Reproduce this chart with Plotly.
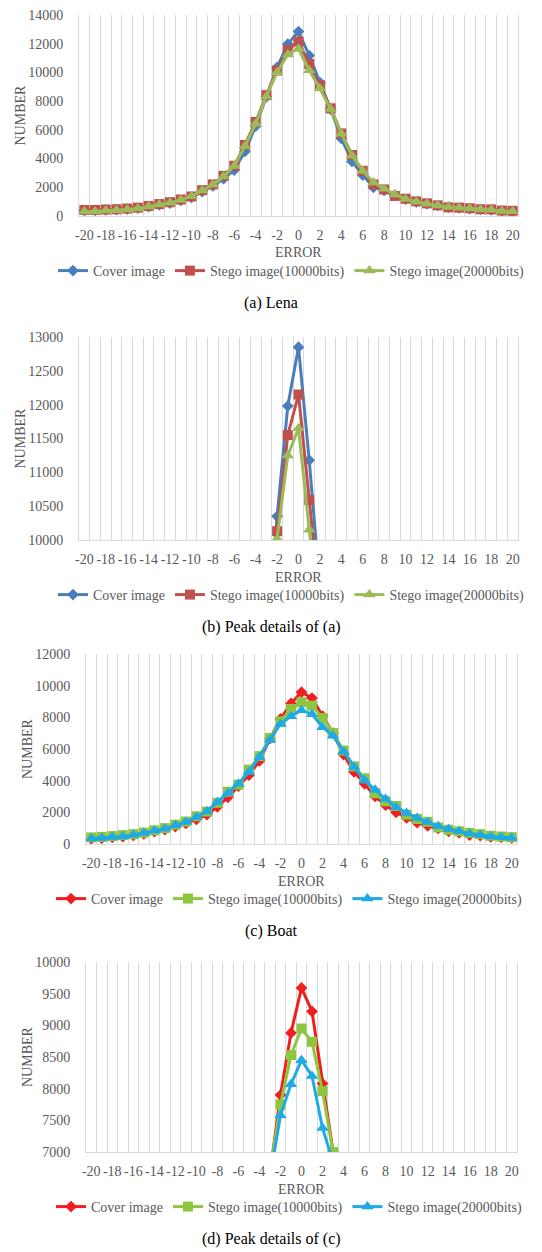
import plotly.graph_objects as go

errors = list(range(-20, 21))
tick_vals = list(range(-20, 21, 2))
tick_text = [str(v) for v in tick_vals]

lena_cover = [380, 390, 420, 440, 480, 540, 650, 780, 900, 1080, 1300, 1700, 2100, 2600, 3200, 4500, 6250, 8300,
              10350, 11980, 12850, 11180, 9300, 7450, 5400, 3800, 2850, 2000, 1780, 1450, 1180, 980, 850, 730, 620,
              560, 520, 460, 430, 350, 330]
lena_10000 = [420, 420, 450, 470, 520, 580, 700, 830, 960, 1150, 1360, 1800, 2200, 2800, 3500, 4950, 6550, 8420,
              10130, 11550, 12150, 10590, 9100, 7500, 5750, 4250, 3150, 2200, 1850, 1400, 1200, 1020, 880, 740, 600,
              580, 540, 470, 460, 380, 360]
lena_20000 = [320, 310, 380, 400, 460, 530, 660, 800, 920, 1120, 1380, 1770, 2180, 2750, 3490, 4860, 6420, 8330,
              10020, 11250, 11650, 10150, 8880, 7450, 5730, 4200, 3140, 2340, 1900, 1490, 1190, 990, 850, 730, 620,
              570, 530, 460, 440, 340, 330]

boat_cover = [330, 360, 420, 460, 540, 640, 780, 900, 1100, 1300, 1550, 1850, 2350, 2950, 3650, 4350, 5250, 6650,
              7900, 8880, 9590, 9220, 8080, 7000, 5650, 4550, 3800, 3000, 2450, 2000, 1650, 1350, 1150, 980, 800,
              700, 560, 520, 450, 420, 380]
boat_10000 = [420, 450, 500, 560, 620, 720, 860, 1000, 1220, 1420, 1750, 2050, 2600, 3300, 3750, 4700, 5550, 6700,
              7750, 8530, 8950, 8740, 7960, 7000, 5900, 4900, 4150, 3200, 2700, 2400, 1850, 1580, 1400, 1050, 900,
              800, 700, 620, 520, 470, 430]
boat_20000 = [340, 380, 440, 480, 570, 690, 840, 970, 1180, 1390, 1700, 2060, 2650, 3220, 3810, 4550, 5490, 6590,
              7580, 8070, 8450, 8200, 7380, 6840, 5850, 4860, 4020, 3430, 2840, 2320, 1960, 1640, 1390, 1120, 950,
              800, 650, 570, 480, 420, 380]

series_names = ["Cover image", "Stego image(10000bits)", "Stego image(20000bits)"]
captions = ["(a) Lena", "(b) Peak details of (a)", "(c) Boat", "(d) Peak details of (c)"]

colors_lena = ["#4A7EBB", "#C0504D", "#9BBB59"]
colors_boat = ["#F01E1E", "#8DC63F", "#1EAAE6"]
symbols = ["diamond", "square", "triangle-up"]
msizes = [9, 10, 11]

W, H = 542, 1252
def fx(px):
    return px / W
def fy(py):
    return 1 - py / H

# panel geometry (pixels): left, right, top, bottom
panels = [
    dict(l=79, r=518, t=15, b=216, yr=[0, 14000], dt=2000, data=[lena_cover, lena_10000, lena_20000], col=colors_lena, legx=291),
    dict(l=79, r=518, t=337, b=540, yr=[10000, 13000], dt=500, data=[lena_cover, lena_10000, lena_20000], col=colors_lena, legx=291),
    dict(l=86, r=517, t=654, b=844, yr=[0, 12000], dt=2000, data=[boat_cover, boat_10000, boat_20000], col=colors_boat, legx=289),
    dict(l=86, r=517, t=962, b=1152, yr=[7000, 10000], dt=500, data=[boat_cover, boat_10000, boat_20000], col=colors_boat, legx=289),
]

SERIF = "Liberation Serif, Times New Roman, serif"
GRAY = "#595959"
GRID = "#D9D9D9"
TICKFONT = dict(family=SERIF, size=14, color=GRAY)

fig = go.Figure()
annotations = []
layout = {}
for i, p in enumerate(panels):
    n = i + 1
    xa = "x" if n == 1 else f"x{n}"
    ya = "y" if n == 1 else f"y{n}"
    lg = "legend" if n == 1 else f"legend{n}"
    for k in range(3):
        fig.add_trace(go.Scatter(
            x=errors, y=p["data"][k], name=series_names[k], mode="lines+markers",
            line=dict(color=p["col"][k], width=3),
            marker=dict(symbol=symbols[k], size=msizes[k], color=p["col"][k]),
            xaxis=xa, yaxis=ya, legend=lg, cliponaxis=True,
        ))
    layout[f"xaxis{n}" if n > 1 else "xaxis"] = dict(
        domain=[fx(p["l"]), fx(p["r"])], anchor=ya, range=[-20.5, 20.5], automargin=False,
        tickmode="array", tickvals=tick_vals, ticktext=tick_text,
        showgrid=False, zeroline=False, showline=True, linecolor=GRID, linewidth=1,
        ticks="", tickfont=dict(family=SERIF, size=14, color=GRAY), ticklabelstandoff=6,
        minor=dict(tick0=0.5, dtick=1, showgrid=True, gridcolor=GRID, gridwidth=1, ticks=""),
        fixedrange=True,
    )
    layout[f"yaxis{n}" if n > 1 else "yaxis"] = dict(
        domain=[fy(p["b"]), fy(p["t"])], anchor=xa, range=p["yr"], dtick=p["dt"], tickformat="d",
        automargin=False,
        tick0=0, showgrid=False, zeroline=False, showline=True, linecolor=GRID, linewidth=1, mirror=True,
        ticks="", tickfont=TICKFONT, ticklabelstandoff=12, fixedrange=True,
    )
    layout[lg] = dict(
        orientation="h", x=fx(p["legx"]), y=fy(p["b"] + 55), xanchor="center", yanchor="middle",
        font=dict(family=SERIF, size=14, color=GRAY), bgcolor="rgba(0,0,0,0)",
        itemwidth=30, tracegroupgap=0,
    )
    annotations.append(dict(text="ERROR", x=fx((p["l"] + p["r"]) / 2), y=fy(p["b"] + 37), xref="paper", yref="paper",
                            showarrow=False, xanchor="center", yanchor="middle",
                            font=dict(family=SERIF, size=14, color=GRAY)))
    annotations.append(dict(text="NUMBER", x=fx(p["l"] - 59), y=fy((p["t"] + p["b"]) / 2), xref="paper", yref="paper",
                            showarrow=False, xanchor="center", yanchor="middle", textangle=-90,
                            font=dict(family=SERIF, size=14, color=GRAY)))
    annotations.append(dict(text=captions[i], x=fx(271), y=fy(p["b"] + 87), xref="paper", yref="paper",
                            showarrow=False, xanchor="center", yanchor="middle",
                            font=dict(family=SERIF, size=16, color="#000000")))

fig.update_layout(
    width=W, height=H, margin=dict(l=0, r=0, t=0, b=0, autoexpand=False),
    paper_bgcolor="white", plot_bgcolor="white", showlegend=True, hovermode=False,
    annotations=annotations, **layout,
)
fig.write_html("out.html", config={"displayModeBar": False, "staticPlot": True},
               post_script="document.body.style.margin='0';")
